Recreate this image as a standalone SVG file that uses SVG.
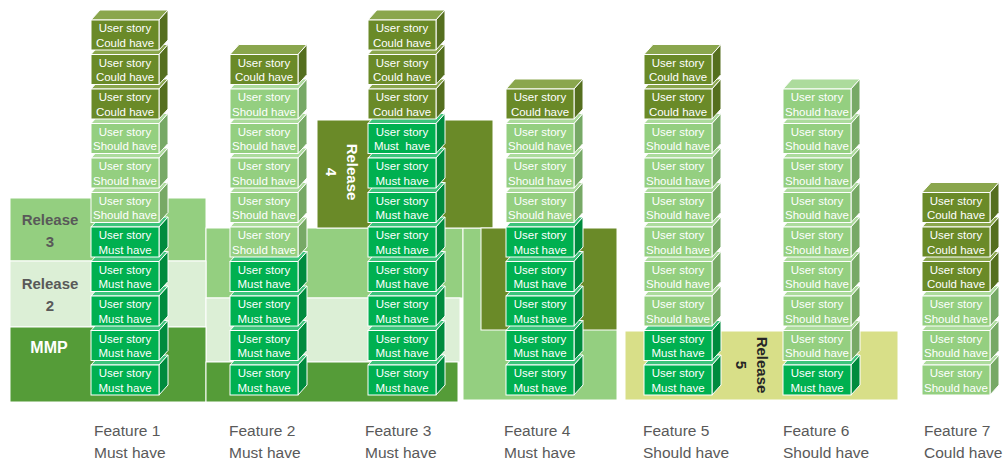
<svg xmlns="http://www.w3.org/2000/svg" width="1006" height="459" viewBox="0 0 1006 459">
<style>
.rel{stroke:#fff;stroke-width:1}
.r3{fill:#94cf80}.r2{fill:#dcefd6}.mmp{fill:#559c38}.r4{fill:#6a8a28}.r5{fill:#d8df88}
.must{--t:#3cc47b;--s:#008b3e;--f:#00b050}
.should{--t:#acdb9c;--s:#77a966;--f:#94cf80}
.could{--t:#8aa64d;--s:#556f1f;--f:#6a8a28}
.blk text{font-family:"Liberation Sans",Arial,sans-serif;font-size:11.5px;fill:#fff;text-anchor:middle}
.lbl{font-family:"Liberation Sans",Arial,sans-serif;font-weight:bold;font-size:15px;text-anchor:middle}
.ft{font-family:"Liberation Sans",Arial,sans-serif;font-size:15.5px;fill:#595959}
</style>
<defs>
<g id="faces">
<polygon style="fill:var(--t);stroke:#fff;stroke-width:1" points="0,0 9,-10 77,-10 68,0"/>
<polygon style="fill:var(--s);stroke:#fff;stroke-width:1" points="68,0 77,-10 77,20 68,30"/>
<rect style="fill:var(--f);stroke:#fff;stroke-width:1" x="0" y="0" width="68" height="30"/>
</g>
</defs>
<g id="releases">
<rect class="rel r3" x="10" y="198" width="196" height="63"/>
<rect class="rel r3" x="206" y="228" width="257" height="70"/>
<rect class="rel r3" x="463" y="228" width="154" height="172"/>
<rect class="rel r2" x="10" y="261" width="196" height="66"/>
<rect class="rel r2" x="206" y="298" width="254" height="64"/>
<rect class="rel mmp" x="10" y="327" width="196" height="75"/>
<rect class="rel mmp" x="206" y="362" width="252" height="40"/>
<rect class="rel r4" x="317" y="120" width="176" height="108"/>
<rect class="rel r4" x="481" y="228" width="136" height="102"/>
<rect class="rel r5" x="625" y="331" width="273" height="69"/>
<text class="lbl" fill="#595959" x="50" y="225">Release</text>
<text class="lbl" fill="#595959" x="50" y="247">3</text>
<text class="lbl" fill="#595959" x="50" y="289">Release</text>
<text class="lbl" fill="#595959" x="50" y="311">2</text>
<text class="lbl" fill="#fff" x="49" y="353" style="font-size:16px">MMP</text>
<text class="lbl" fill="#fff" transform="translate(347,172) rotate(90)">Release</text>
<text class="lbl" fill="#fff" transform="translate(326,172) rotate(90)">4</text>
<text class="lbl" fill="#262626" transform="translate(757,365) rotate(90)">Release</text>
<text class="lbl" fill="#262626" transform="translate(736,365) rotate(90)">5</text>
</g>
<g id="feature1">
<g id="f1b0" class="blk must" transform="translate(91,365)"><use href="#faces"/><text x="34" y="12">User story</text><text x="34" y="26.5">Must have</text></g>
<g id="f1b1" class="blk must" transform="translate(91,330.5)"><use href="#faces"/><text x="34" y="12">User story</text><text x="34" y="26.5">Must have</text></g>
<g id="f1b2" class="blk must" transform="translate(91,296)"><use href="#faces"/><text x="34" y="12">User story</text><text x="34" y="26.5">Must have</text></g>
<g id="f1b3" class="blk must" transform="translate(91,261.5)"><use href="#faces"/><text x="34" y="12">User story</text><text x="34" y="26.5">Must have</text></g>
<g id="f1b4" class="blk must" transform="translate(91,227)"><use href="#faces"/><text x="34" y="12">User story</text><text x="34" y="26.5">Must have</text></g>
<g id="f1b5" class="blk should" transform="translate(91,192.5)"><use href="#faces"/><text x="34" y="12">User story</text><text x="34" y="26.5">Should have</text></g>
<g id="f1b6" class="blk should" transform="translate(91,158)"><use href="#faces"/><text x="34" y="12">User story</text><text x="34" y="26.5">Should have</text></g>
<g id="f1b7" class="blk should" transform="translate(91,123.5)"><use href="#faces"/><text x="34" y="12">User story</text><text x="34" y="26.5">Should have</text></g>
<g id="f1b8" class="blk could" transform="translate(91,89)"><use href="#faces"/><text x="34" y="12">User story</text><text x="34" y="26.5">Could have</text></g>
<g id="f1b9" class="blk could" transform="translate(91,54.5)"><use href="#faces"/><text x="34" y="12">User story</text><text x="34" y="26.5">Could have</text></g>
<g id="f1b10" class="blk could" transform="translate(91,20)"><use href="#faces"/><text x="34" y="12">User story</text><text x="34" y="26.5">Could have</text></g>
</g>
<g id="feature2">
<g id="f2b0" class="blk must" transform="translate(230,365)"><use href="#faces"/><text x="34" y="12">User story</text><text x="34" y="26.5">Must have</text></g>
<g id="f2b1" class="blk must" transform="translate(230,330.5)"><use href="#faces"/><text x="34" y="12">User story</text><text x="34" y="26.5">Must have</text></g>
<g id="f2b2" class="blk must" transform="translate(230,296)"><use href="#faces"/><text x="34" y="12">User story</text><text x="34" y="26.5">Must have</text></g>
<g id="f2b3" class="blk must" transform="translate(230,261.5)"><use href="#faces"/><text x="34" y="12">User story</text><text x="34" y="26.5">Must have</text></g>
<g id="f2b4" class="blk should" transform="translate(230,227)"><use href="#faces"/><text x="34" y="12">User story</text><text x="34" y="26.5">Should have</text></g>
<g id="f2b5" class="blk should" transform="translate(230,192.5)"><use href="#faces"/><text x="34" y="12">User story</text><text x="34" y="26.5">Should have</text></g>
<g id="f2b6" class="blk should" transform="translate(230,158)"><use href="#faces"/><text x="34" y="12">User story</text><text x="34" y="26.5">Should have</text></g>
<g id="f2b7" class="blk should" transform="translate(230,123.5)"><use href="#faces"/><text x="34" y="12">User story</text><text x="34" y="26.5">Should have</text></g>
<g id="f2b8" class="blk should" transform="translate(230,89)"><use href="#faces"/><text x="34" y="12">User story</text><text x="34" y="26.5">Should have</text></g>
<g id="f2b9" class="blk could" transform="translate(230,54.5)"><use href="#faces"/><text x="34" y="12">User story</text><text x="34" y="26.5">Could have</text></g>
</g>
<g id="feature3">
<g id="f3b0" class="blk must" transform="translate(368,365)"><use href="#faces"/><text x="34" y="12">User story</text><text x="34" y="26.5">Must have</text></g>
<g id="f3b1" class="blk must" transform="translate(368,330.5)"><use href="#faces"/><text x="34" y="12">User story</text><text x="34" y="26.5">Must have</text></g>
<g id="f3b2" class="blk must" transform="translate(368,296)"><use href="#faces"/><text x="34" y="12">User story</text><text x="34" y="26.5">Must have</text></g>
<g id="f3b3" class="blk must" transform="translate(368,261.5)"><use href="#faces"/><text x="34" y="12">User story</text><text x="34" y="26.5">Must have</text></g>
<g id="f3b4" class="blk must" transform="translate(368,227)"><use href="#faces"/><text x="34" y="12">User story</text><text x="34" y="26.5">Must have</text></g>
<g id="f3b5" class="blk must" transform="translate(368,192.5)"><use href="#faces"/><text x="34" y="12">User story</text><text x="34" y="26.5">Must have</text></g>
<g id="f3b6" class="blk must" transform="translate(368,158)"><use href="#faces"/><text x="34" y="12">User story</text><text x="34" y="26.5">Must have</text></g>
<g id="f3b7" class="blk must" transform="translate(368,123.5)"><use href="#faces"/><text x="34" y="12">User story</text><text x="34" y="26.5" style="white-space:pre">Must  have</text></g>
<g id="f3b8" class="blk could" transform="translate(368,89)"><use href="#faces"/><text x="34" y="12">User story</text><text x="34" y="26.5">Could have</text></g>
<g id="f3b9" class="blk could" transform="translate(368,54.5)"><use href="#faces"/><text x="34" y="12">User story</text><text x="34" y="26.5">Could have</text></g>
<g id="f3b10" class="blk could" transform="translate(368,20)"><use href="#faces"/><text x="34" y="12">User story</text><text x="34" y="26.5">Could have</text></g>
</g>
<g id="feature4">
<g id="f4b0" class="blk must" transform="translate(506,365)"><use href="#faces"/><text x="34" y="12">User story</text><text x="34" y="26.5">Must have</text></g>
<g id="f4b1" class="blk must" transform="translate(506,330.5)"><use href="#faces"/><text x="34" y="12">User story</text><text x="34" y="26.5">Must have</text></g>
<g id="f4b2" class="blk must" transform="translate(506,296)"><use href="#faces"/><text x="34" y="12">User story</text><text x="34" y="26.5">Must have</text></g>
<g id="f4b3" class="blk must" transform="translate(506,261.5)"><use href="#faces"/><text x="34" y="12">User story</text><text x="34" y="26.5">Must have</text></g>
<g id="f4b4" class="blk must" transform="translate(506,227)"><use href="#faces"/><text x="34" y="12">User story</text><text x="34" y="26.5">Must have</text></g>
<g id="f4b5" class="blk should" transform="translate(506,192.5)"><use href="#faces"/><text x="34" y="12">User story</text><text x="34" y="26.5">Should have</text></g>
<g id="f4b6" class="blk should" transform="translate(506,158)"><use href="#faces"/><text x="34" y="12">User story</text><text x="34" y="26.5">Should have</text></g>
<g id="f4b7" class="blk should" transform="translate(506,123.5)"><use href="#faces"/><text x="34" y="12">User story</text><text x="34" y="26.5">Should have</text></g>
<g id="f4b8" class="blk could" transform="translate(506,89)"><use href="#faces"/><text x="34" y="12">User story</text><text x="34" y="26.5">Could have</text></g>
</g>
<g id="feature5">
<g id="f5b0" class="blk must" transform="translate(644,365)"><use href="#faces"/><text x="34" y="12">User story</text><text x="34" y="26.5">Must have</text></g>
<g id="f5b1" class="blk must" transform="translate(644,330.5)"><use href="#faces"/><text x="34" y="12">User story</text><text x="34" y="26.5">Must have</text></g>
<g id="f5b2" class="blk should" transform="translate(644,296)"><use href="#faces"/><text x="34" y="12">User story</text><text x="34" y="26.5">Should have</text></g>
<g id="f5b3" class="blk should" transform="translate(644,261.5)"><use href="#faces"/><text x="34" y="12">User story</text><text x="34" y="26.5">Should have</text></g>
<g id="f5b4" class="blk should" transform="translate(644,227)"><use href="#faces"/><text x="34" y="12">User story</text><text x="34" y="26.5">Should have</text></g>
<g id="f5b5" class="blk should" transform="translate(644,192.5)"><use href="#faces"/><text x="34" y="12">User story</text><text x="34" y="26.5">Should have</text></g>
<g id="f5b6" class="blk should" transform="translate(644,158)"><use href="#faces"/><text x="34" y="12">User story</text><text x="34" y="26.5">Should have</text></g>
<g id="f5b7" class="blk should" transform="translate(644,123.5)"><use href="#faces"/><text x="34" y="12">User story</text><text x="34" y="26.5">Should have</text></g>
<g id="f5b8" class="blk could" transform="translate(644,89)"><use href="#faces"/><text x="34" y="12">User story</text><text x="34" y="26.5">Could have</text></g>
<g id="f5b9" class="blk could" transform="translate(644,54.5)"><use href="#faces"/><text x="34" y="12">User story</text><text x="34" y="26.5">Could have</text></g>
</g>
<g id="feature6">
<g id="f6b0" class="blk must" transform="translate(783,365)"><use href="#faces"/><text x="34" y="12">User story</text><text x="34" y="26.5">Must have</text></g>
<g id="f6b1" class="blk should" transform="translate(783,330.5)"><use href="#faces"/><text x="34" y="12">User story</text><text x="34" y="26.5">Should have</text></g>
<g id="f6b2" class="blk should" transform="translate(783,296)"><use href="#faces"/><text x="34" y="12">User story</text><text x="34" y="26.5">Should have</text></g>
<g id="f6b3" class="blk should" transform="translate(783,261.5)"><use href="#faces"/><text x="34" y="12">User story</text><text x="34" y="26.5">Should have</text></g>
<g id="f6b4" class="blk should" transform="translate(783,227)"><use href="#faces"/><text x="34" y="12">User story</text><text x="34" y="26.5">Should have</text></g>
<g id="f6b5" class="blk should" transform="translate(783,192.5)"><use href="#faces"/><text x="34" y="12">User story</text><text x="34" y="26.5">Should have</text></g>
<g id="f6b6" class="blk should" transform="translate(783,158)"><use href="#faces"/><text x="34" y="12">User story</text><text x="34" y="26.5">Should have</text></g>
<g id="f6b7" class="blk should" transform="translate(783,123.5)"><use href="#faces"/><text x="34" y="12">User story</text><text x="34" y="26.5">Should have</text></g>
<g id="f6b8" class="blk should" transform="translate(783,89)"><use href="#faces"/><text x="34" y="12">User story</text><text x="34" y="26.5">Should have</text></g>
</g>
<g id="feature7">
<g id="f7b0" class="blk should" transform="translate(922,365)"><use href="#faces"/><text x="34" y="12">User story</text><text x="34" y="26.5">Should have</text></g>
<g id="f7b1" class="blk should" transform="translate(922,330.5)"><use href="#faces"/><text x="34" y="12">User story</text><text x="34" y="26.5">Should have</text></g>
<g id="f7b2" class="blk should" transform="translate(922,296)"><use href="#faces"/><text x="34" y="12">User story</text><text x="34" y="26.5">Should have</text></g>
<g id="f7b3" class="blk could" transform="translate(922,261.5)"><use href="#faces"/><text x="34" y="12">User story</text><text x="34" y="26.5">Could have</text></g>
<g id="f7b4" class="blk could" transform="translate(922,227)"><use href="#faces"/><text x="34" y="12">User story</text><text x="34" y="26.5">Could have</text></g>
<g id="f7b5" class="blk could" transform="translate(922,192.5)"><use href="#faces"/><text x="34" y="12">User story</text><text x="34" y="26.5">Could have</text></g>
</g>
<g id="feature-labels">
<text class="ft" x="94" y="436">Feature 1</text><text class="ft" x="94" y="458">Must have</text>
<text class="ft" x="229" y="436">Feature 2</text><text class="ft" x="229" y="458">Must have</text>
<text class="ft" x="365" y="436">Feature 3</text><text class="ft" x="365" y="458">Must have</text>
<text class="ft" x="504" y="436">Feature 4</text><text class="ft" x="504" y="458">Must have</text>
<text class="ft" x="643" y="436">Feature 5</text><text class="ft" x="643" y="458">Should have</text>
<text class="ft" x="783" y="436">Feature 6</text><text class="ft" x="783" y="458">Should have</text>
<text class="ft" x="924" y="436">Feature 7</text><text class="ft" x="924" y="458">Could have</text>
</g>
<g id="connectors"/>
</svg>
